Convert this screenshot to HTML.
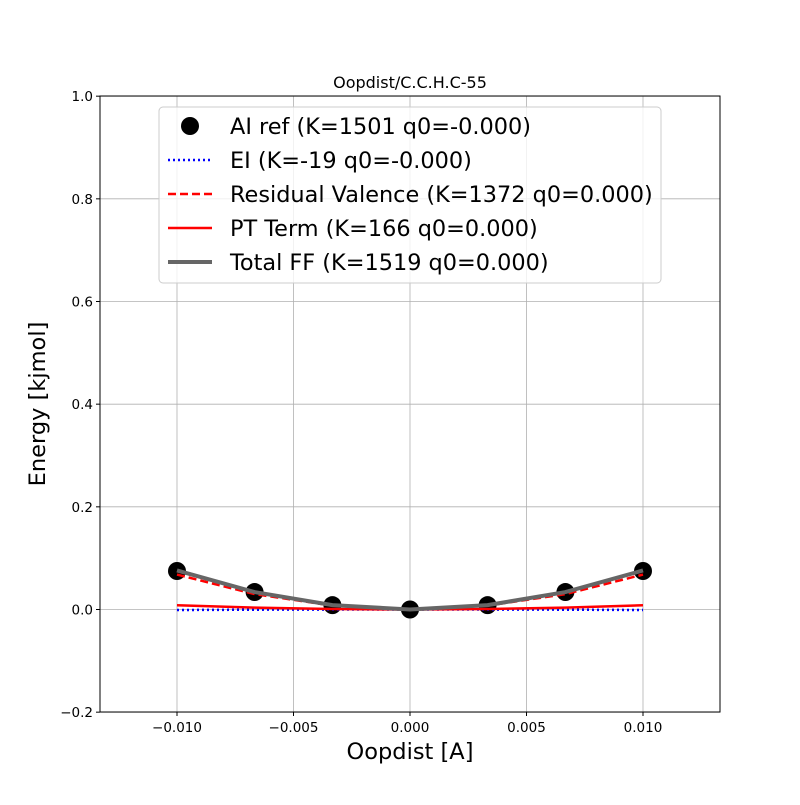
<!DOCTYPE html>
<html><head><meta charset="utf-8"><style>
body{margin:0;background:#fff;}
svg text{font-family:"DejaVu Sans","Liberation Sans",sans-serif;}
</style></head><body>
<svg id="chart" width="800" height="800" xmlns="http://www.w3.org/2000/svg">
<rect x="0" y="0" width="800" height="800" fill="#fff"/>
<g id="grid"></g>
<g id="series"></g>
<rect x="100" y="96" width="620" height="616" fill="none" stroke="#000" stroke-width="1"/>
<g id="ticks"></g>
<text x="410" y="88" text-anchor="middle" font-size="16">Oopdist/C.C.H.C-55</text>
<text x="410" y="759" text-anchor="middle" font-size="22.5">Oopdist [A]</text>
<text x="45" y="404" text-anchor="middle" font-size="22.5" transform="rotate(-90 45 404)">Energy [kjmol]</text>
<g>
<rect x="159" y="107" width="502" height="176" rx="4" fill="#fff" fill-opacity="0.8" stroke="#ccc"/>
<circle cx="190" cy="126" r="9" fill="#000"/>
<text x="230" y="134" font-size="22.4">AI ref (K=1501 q0=-0.000)</text>
<line x1="168" y1="160" x2="212" y2="160" stroke="#00f" stroke-width="2.5" stroke-dasharray="2,3"/>
<text x="230" y="168" font-size="22.4">EI (K=-19 q0=-0.000)</text>
<line x1="168" y1="194" x2="212" y2="194" stroke="#f00" stroke-width="2.5" stroke-dasharray="8,4"/>
<text x="230" y="202" font-size="22.4">Residual Valence (K=1372 q0=0.000)</text>
<line x1="168" y1="228" x2="212" y2="228" stroke="#f00" stroke-width="2.5"/>
<text x="230" y="236" font-size="22.4">PT Term (K=166 q0=0.000)</text>
<line x1="168" y1="262" x2="212" y2="262" stroke="#666" stroke-width="4"/>
<text x="230" y="270" font-size="22.4">Total FF (K=1519 q0=0.000)</text>
</g>
</svg>
<script>
const xs=[-0.01,-0.00667,-0.00333,0,0.00333,0.00667,0.01];
const aiRef=[0.075,0.034,0.0085,0,0.0085,0.034,0.075];
const ei=[-0.001,-0.0004,-0.0001,0,-0.0001,-0.0004,-0.001];
const resid=[0.068,0.030,0.0076,0,0.0076,0.030,0.068];
const pt=[0.0083,0.0037,0.0009,0,0.0009,0.0037,0.0083];
const total=[0.076,0.034,0.0085,0,0.0085,0.034,0.076];
const xTicks=[-0.01,-0.005,0,0.005,0.01];
const xTickLabels=["\u22120.010","\u22120.005","0.000","0.005","0.010"];
const yTicks=[-0.2,0,0.2,0.4,0.6,0.8,1.0];
const yTickLabels=["\u22120.2","0.0","0.2","0.4","0.6","0.8","1.0"];
const NS="http://www.w3.org/2000/svg";
const X=v=>410+v*23300, Y=v=>609.5-v*513.33;
function mk(t,a,p){const e=document.createElementNS(NS,t);for(const k in a)e.setAttribute(k,a[k]);p.appendChild(e);return e;}
const g=document.getElementById('grid'),tk=document.getElementById('ticks'),s=document.getElementById('series');
xTicks.forEach((v,i)=>{
 const l=mk('line',{x1:X(v),x2:X(v),y1:96,y2:712,stroke:'#b0b0b0','stroke-width':0.8},g);
 
 mk('line',{x1:X(v),x2:X(v),y1:712,y2:716,stroke:'#000'},tk);
 const t=mk('text',{x:X(v),y:732,'text-anchor':'middle','font-size':13.5},tk);t.textContent=xTickLabels[i];
 
});
yTicks.forEach((v,i)=>{
 const l=mk('line',{x1:100,x2:720,y1:Y(v),y2:Y(v),stroke:'#b0b0b0','stroke-width':0.8},g);
 
 mk('line',{x1:96,x2:100,y1:Y(v),y2:Y(v),stroke:'#000'},tk);
 const t=mk('text',{x:93,y:Y(v)+5,'text-anchor':'end','font-size':13.5},tk);t.textContent=yTickLabels[i];
 
});
function line(d,st,w,dash,name){
 const p=mk('polyline',{points:xs.map((x,i)=>X(x)+','+Y(d[i])).join(' '),fill:'none',stroke:st,'stroke-width':w},s);
 if(dash)p.setAttribute('stroke-dasharray',dash);
 
}
xs.forEach((x,i)=>{const c=mk('circle',{cx:X(x),cy:Y(aiRef[i]),r:9,fill:'#000'},s);
 });
line(ei,'#00f',2.5,'2,3','ei-line');
line(resid,'#f00',2.5,'8,4','residual-valence-line');
line(pt,'#f00',2.5,null,'pt-term-line');
line(total,'#666',4,null,'total-ff-line');
</script>
</body></html>
